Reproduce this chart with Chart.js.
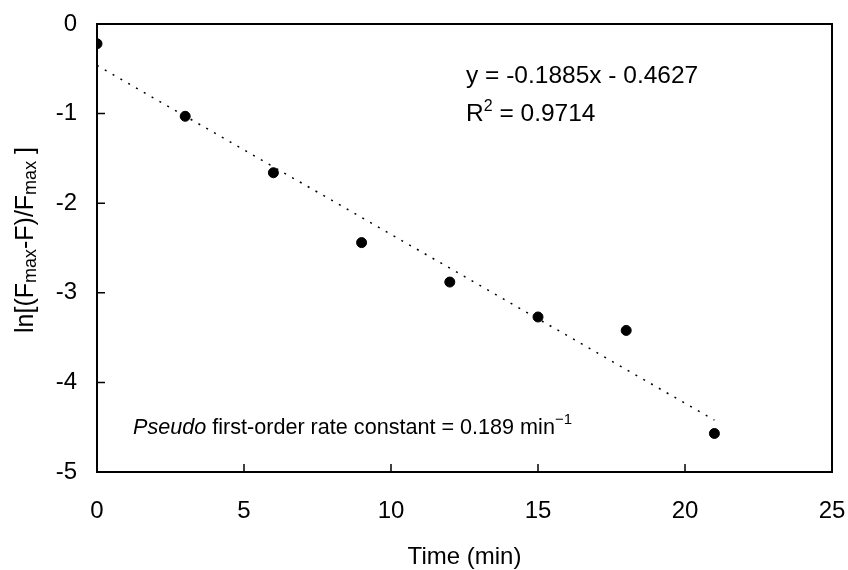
<!DOCTYPE html>
<html>
<head>
<meta charset="utf-8">
<script src="https://cdn.jsdelivr.net/npm/chart.js@4/dist/chart.umd.min.js"></script>
<style>
  body { margin: 0; background: #fff; }
  #wrap { width: 848px; height: 570px; position: relative; }
</style>
</head>
<body>
<div id="wrap"><canvas id="rate-chart"></canvas></div>
<script>
// Data
const times = [0, 3, 6, 9, 12, 15, 18, 21];
const lnValues = [-0.22, -1.03, -1.66, -2.44, -2.88, -3.27, -3.42, -4.57];
const xTicks = [0, 5, 10, 15, 20, 25];
const yTicks = [-5, -4, -3, -2, -1, 0];

// Linear trendline as printed on the chart
const slope = -0.1885;
const intercept = -0.4627;
const fitRange = [0, 21];

const FONT = "Liberation Sans, Arial, Helvetica, sans-serif";
const SIZE = 24;

const points = times.map((t, i) => ({ x: t, y: lnValues[i] }));
const fitLine = fitRange.map((t) => ({ x: t, y: slope * t + intercept }));

// Draw text with sub/superscript runs
function drawRuns(ctx, runs, x, y, base) {
  let cx = x;
  runs.forEach((r) => {
    const size = r.size || base;
    ctx.font = (r.italic ? "italic " : "") + size + "px " + FONT;
    ctx.fillText(r.text, cx, y + (r.dy || 0));
    cx += ctx.measureText(r.text).width;
  });
  return cx - x;
}

function runsWidth(ctx, runs, base) {
  let w = 0;
  runs.forEach((r) => {
    ctx.font = (r.italic ? "italic " : "") + (r.size || base) + "px " + FONT;
    w += ctx.measureText(r.text).width;
  });
  return w;
}

const framePlugin = {
  id: "frame",
  afterDraw(chart) {
    const { ctx, chartArea: a, scales } = chart;
    ctx.save();
    ctx.strokeStyle = "#000";
    ctx.lineWidth = 2;
    ctx.strokeRect(a.left, a.top, a.right - a.left, a.bottom - a.top);

    // inward ticks
    ctx.lineWidth = 1.5;
    ctx.beginPath();
    xTicks.forEach((v) => {
      const px = scales.x.getPixelForValue(v);
      ctx.moveTo(px, a.bottom);
      ctx.lineTo(px, a.bottom - 8);
    });
    yTicks.forEach((v) => {
      const py = scales.y.getPixelForValue(v);
      ctx.moveTo(a.left, py);
      ctx.lineTo(a.left + 8, py);
    });
    ctx.stroke();

    ctx.fillStyle = "#000";
    ctx.textBaseline = "alphabetic";
    ctx.textAlign = "left";

    // equation and R squared
    drawRuns(ctx, [{ text: "y = -0.1885x - 0.4627" }], 466, 83, 24.5);
    drawRuns(ctx, [
      { text: "R" },
      { text: "2", size: 16, dy: -10 },
      { text: " = 0.9714" },
    ], 466, 121, 24.5);

    // rate constant note
    drawRuns(ctx, [
      { text: "Pseudo", italic: true },
      { text: " first-order rate constant = 0.189 min" },
      { text: "\u22121", size: 15, dy: -10 },
    ], 133, 434, 21.6);

    // x axis title
    ctx.textAlign = "center";
    ctx.font = SIZE + "px " + FONT;
    ctx.fillText("Time (min)", (a.left + a.right) / 2, 564);

    // y axis title, rotated
    const yRuns = [
      { text: "ln[(F" },
      { text: "max", size: 18, dy: 3 },
      { text: "-F)/F" },
      { text: "max", size: 18, dy: 3 },
      { text: " ]" },
    ];
    ctx.textAlign = "left";
    const w = runsWidth(ctx, yRuns, 25);
    ctx.translate(33, 240);
    ctx.rotate(-Math.PI / 2);
    drawRuns(ctx, yRuns, -w / 2, 0, 25);
    ctx.restore();
  },
};

new Chart(document.getElementById("rate-chart"), {
  type: "scatter",
  data: {
    datasets: [
      {
        label: "data",
        data: points,
        backgroundColor: "#000",
        borderColor: "#000",
        pointRadius: 5,
        pointHoverRadius: 5,
      },
      {
        label: "fit",
        data: fitLine,
        showLine: true,
        borderColor: "#000",
        borderWidth: 1.5,
        borderDash: [2, 7],
        pointRadius: 0,
        fill: false,
      },
    ],
  },
  options: {
    responsive: true,
    maintainAspectRatio: false,
    animation: false,
    layout: { padding: { top: 24, right: 16, left: 0, bottom: 0 } },
    plugins: {
      legend: { display: false },
      tooltip: { enabled: false },
    },
    scales: {
      x: {
        type: "linear",
        min: 0,
        max: 25,
        afterBuildTicks: (s) => { s.ticks = xTicks.map((v) => ({ value: v })); },
        afterFit: (s) => {
          s.height = 98;
          s.paddingLeft = 0;
          s.paddingRight = 0;
        },
        grid: { display: false, drawTicks: false },
        border: { display: false },
        ticks: {
          color: "#000",
          padding: 25,
          maxRotation: 0,
          font: { family: FONT, size: SIZE },
        },
      },
      y: {
        type: "linear",
        min: -5,
        max: 0,
        afterBuildTicks: (s) => { s.ticks = yTicks.map((v) => ({ value: v })); },
        afterFit: (s) => {
          s.width = 97;
          s.paddingTop = 0;
          s.paddingBottom = 0;
        },
        grid: { display: false, drawTicks: false },
        border: { display: false },
        ticks: {
          color: "#000",
          padding: 20,
          font: { family: FONT, size: SIZE },
        },
      },
    },
  },
  plugins: [framePlugin],
});
</script>
</body>
</html>
